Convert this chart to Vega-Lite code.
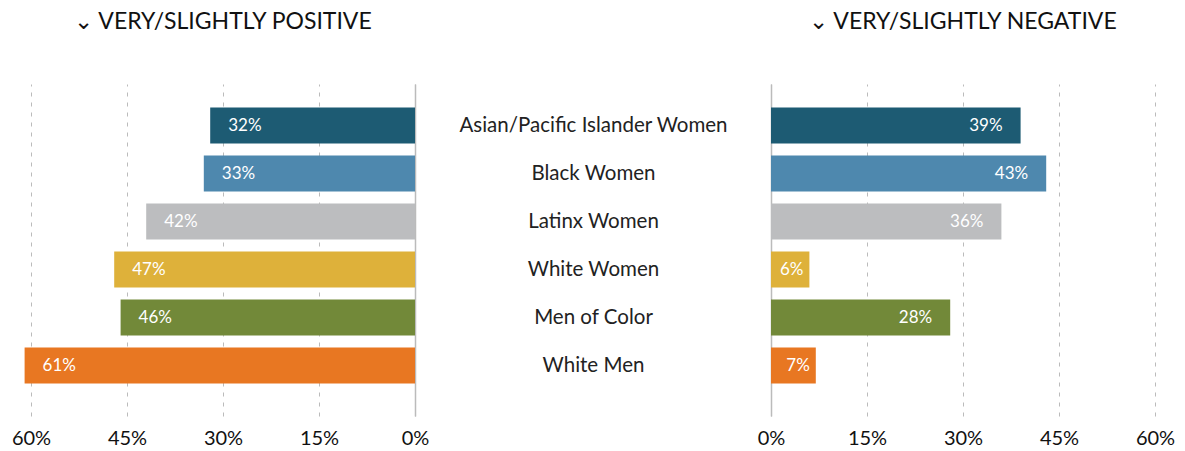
{
  "$schema": "https://vega.github.io/schema/vega-lite/v6.json",
  "background": "white",
  "padding": {"left": 11, "top": 11, "right": 5, "bottom": 5},
  "bounds": "flush",
  "spacing": 356,
  "config": {
    "view": {"stroke": null},
    "font": "Lato",
    "axis": {"titleFontSize": 0},
    "title": {"font": "Lato", "fontSize": 23, "fontWeight": "normal", "color": "#111111", "anchor": "middle", "baseline": "alphabetic", "offset": 50, "frame": "group"}
  },
  "data": {
    "values": [
      {"group": "Asian/Pacific Islander Women", "pos": 0.32, "neg": 0.39},
      {"group": "Black Women", "pos": 0.33, "neg": 0.43},
      {"group": "Latinx Women", "pos": 0.42, "neg": 0.36},
      {"group": "White Women", "pos": 0.47, "neg": 0.06},
      {"group": "Men of Color", "pos": 0.46, "neg": 0.28},
      {"group": "White Men", "pos": 0.61, "neg": 0.07}
    ]
  },
  "hconcat": [
    {
      "width": 384,
      "height": 332,
      "title": {"text": "⌄   VERY/SLIGHTLY POSITIVE"},
      "encoding": {
        "y": {
          "field": "group", "type": "nominal", "sort": null,
          "scale": {"paddingInner": 0.25, "paddingOuter": 0.583, "align": 0.42},
          "axis": {"orient": "right", "labels": false, "ticks": false, "title": null, "grid": false, "domainColor": "#bbbbbb", "domainWidth": 1.5}
        },
        "color": {
          "field": "group", "type": "nominal", "sort": null, "legend": null,
          "scale": {
            "domain": ["Asian/Pacific Islander Women", "Black Women", "Latinx Women", "White Women", "Men of Color", "White Men"],
            "range": ["#1d5b73", "#4e88ae", "#bcbdbf", "#deb13a", "#728939", "#e87722"]
          }
        }
      },
      "layer": [
        {
          "mark": {"type": "bar"},
          "encoding": {
            "x": {
              "field": "pos", "type": "quantitative",
              "scale": {"domain": [0, 0.6], "reverse": true, "nice": false, "zero": true},
              "axis": {"values": [0, 0.15, 0.3, 0.45, 0.6], "format": ".0%", "title": null, "grid": true, "gridDash": [4, 6], "gridColor": "#bbbbbb", "gridWidth": 1, "domain": false, "ticks": false, "labelFontSize": 20, "labelColor": "#111111", "labelPadding": 12, "labelFlush": false}
            }
          }
        },
        {
          "mark": {"type": "text", "align": "left", "baseline": "middle", "dx": 18, "fontSize": 17},
          "encoding": {
            "x": {"field": "pos", "type": "quantitative"},
            "text": {"field": "pos", "type": "quantitative", "format": ".0%"},
            "color": {"value": "white"}
          }
        }
      ]
    },
    {
      "width": 384,
      "height": 332,
      "title": {"text": "⌄   VERY/SLIGHTLY NEGATIVE"},
      "encoding": {
        "y": {
          "field": "group", "type": "nominal", "sort": null,
          "scale": {"paddingInner": 0.25, "paddingOuter": 0.583, "align": 0.42},
          "axis": {"orient": "left", "labels": true, "labelAlign": "center", "labelBaseline": "middle", "labelPadding": 178, "labelLimit": 400, "labelFontSize": 20.5, "labelColor": "#222222", "ticks": false, "title": null, "grid": false, "domainColor": "#bbbbbb", "domainWidth": 1.5}
        },
        "color": {
          "field": "group", "type": "nominal", "sort": null, "legend": null,
          "scale": {
            "domain": ["Asian/Pacific Islander Women", "Black Women", "Latinx Women", "White Women", "Men of Color", "White Men"],
            "range": ["#1d5b73", "#4e88ae", "#bcbdbf", "#deb13a", "#728939", "#e87722"]
          }
        }
      },
      "layer": [
        {
          "mark": {"type": "bar"},
          "encoding": {
            "x": {
              "field": "neg", "type": "quantitative",
              "scale": {"domain": [0, 0.6], "nice": false, "zero": true},
              "axis": {"values": [0, 0.15, 0.3, 0.45, 0.6], "format": ".0%", "title": null, "grid": true, "gridDash": [4, 6], "gridColor": "#bbbbbb", "gridWidth": 1, "domain": false, "ticks": false, "labelFontSize": 20, "labelColor": "#111111", "labelPadding": 12, "labelFlush": false}
            }
          }
        },
        {
          "transform": [{"filter": "datum.neg >= 0.1"}],
          "mark": {"type": "text", "align": "right", "baseline": "middle", "dx": -18, "fontSize": 17},
          "encoding": {
            "x": {"field": "neg", "type": "quantitative"},
            "text": {"field": "neg", "type": "quantitative", "format": ".0%"},
            "color": {"value": "white"}
          }
        },
        {
          "transform": [{"filter": "datum.neg < 0.1"}],
          "mark": {"type": "text", "align": "right", "baseline": "middle", "dx": -6, "fontSize": 17},
          "encoding": {
            "x": {"field": "neg", "type": "quantitative"},
            "text": {"field": "neg", "type": "quantitative", "format": ".0%"},
            "color": {"value": "white"}
          }
        }
      ]
    }
  ]
}
